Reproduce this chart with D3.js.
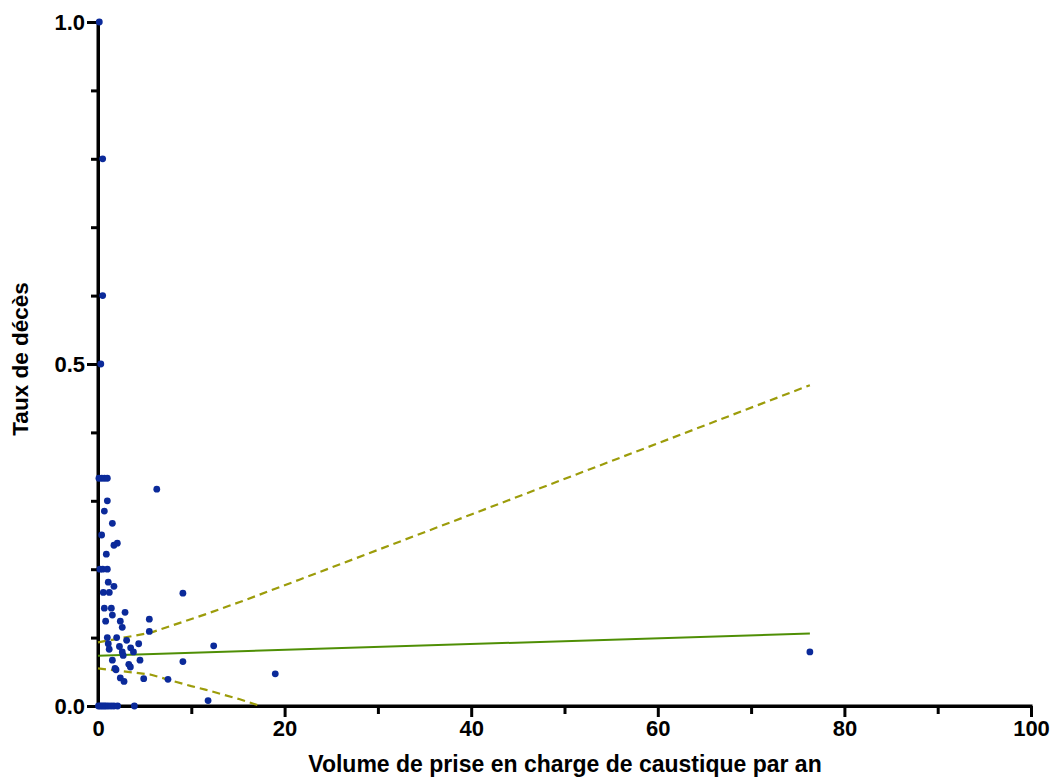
<!DOCTYPE html>
<html>
<head>
<meta charset="utf-8">
<script src="https://cdn.jsdelivr.net/npm/d3@7"></script>
<style>
  html, body { margin: 0; padding: 0; background: #fff; }
  svg text { font-family: "Liberation Sans", Arial, sans-serif; font-weight: bold; fill: #000; }
</style>
</head>
<body>
<svg id="chart" width="1053" height="781"></svg>
<script>
// ---- data ----
const volume = [
  0.14, 0.5, 0.5, 0.3,
  0.1, 0.4, 0.7, 1.0, 6.3,
  1.0, 0.68, 1.54, 0.39, 2.07, 1.71, 0.89,
  0.2, 0.5, 1.0, 1.1, 1.71, 0.57, 1.21, 9.1,
  0.68, 1.43, 2.9, 1.54, 0.82, 2.39, 5.5, 2.6, 5.5,
  1.0, 2.0, 3.07, 4.36, 1.1, 1.2, 2.3, 3.5, 2.6, 3.8, 2.7,
  1.54, 4.5, 9.1, 3.3, 3.47, 1.82, 1.93,
  4.9, 2.39, 2.79, 7.5, 12.4, 11.8, 19.0, 76.3,
  0.05, 0.25, 0.45, 0.65, 0.85, 1.1, 1.4, 1.7, 2.1, 3.9
];
const deathRate = [
  1.0, 0.8, 0.6, 0.5,
  0.333, 0.333, 0.333, 0.333, 0.317,
  0.30, 0.285, 0.267, 0.25, 0.238, 0.235, 0.222,
  0.20, 0.20, 0.20, 0.181, 0.175, 0.166, 0.166, 0.165,
  0.143, 0.143, 0.137, 0.133, 0.124, 0.124, 0.127, 0.115, 0.109,
  0.10, 0.10, 0.096, 0.091, 0.091, 0.083, 0.087, 0.085, 0.079, 0.079, 0.074,
  0.067, 0.067, 0.065, 0.061, 0.057, 0.055, 0.053,
  0.040, 0.041, 0.036, 0.039, 0.088, 0.008, 0.047, 0.079,
  0, 0, 0, 0, 0, 0, 0, 0, 0, 0
];
// linear fit and its 95% band
const fitX = [0, 76.3];
const fitY = [0.0735, 0.106];
const upperX = [0, 5.6, 11.5, 15.2, 21.65, 40, 60, 76.3];
const upperY = [0.093, 0.107, 0.134, 0.152, 0.185, 0.280, 0.384, 0.469];
const lowerX = [0, 5.6, 10, 11.5, 15.2, 17.4];
const lowerY = [0.055, 0.046, 0.029, 0.024, 0.0098, 0];
const xMajorTicks = [0, 20, 40, 60, 80, 100];
const xMinorTicks = [10, 30, 50, 70, 90];
const yMajorTicks = [0, 0.5, 1.0];
const yMinorTicks = [0.1, 0.2, 0.3, 0.4, 0.6, 0.7, 0.8, 0.9];
const xTitle = "Volume de prise en charge de caustique par an";
const yTitle = "Taux de décès";

// ---- drawing ----
const svg = d3.select("#chart");
const x = d3.scaleLinear().domain([0, 100]).range([98, 1031]);
const y = d3.scaleLinear().domain([0, 1]).range([706, 22]);

function styleAxis(g) {
  g.selectAll("path.domain").attr("stroke", "#000").attr("stroke-width", 3);
  g.selectAll(".tick line").attr("stroke", "#000").attr("stroke-width", 3);
  g.selectAll(".tick text").style("font-size", "22px").attr("fill", "#000");
}

// minor ticks
svg.append("g").attr("transform", `translate(0,${y(0)})`)
  .call(d3.axisBottom(x).tickValues(xMinorTicks).tickSize(8).tickSizeOuter(0).tickFormat(""))
  .call(styleAxis);
svg.append("g").attr("transform", `translate(${x(0)},0)`)
  .call(d3.axisLeft(y).tickValues(yMinorTicks).tickSize(7).tickSizeOuter(0).tickFormat(""))
  .call(styleAxis);
// major ticks
const gx = svg.append("g").attr("transform", `translate(0,${y(0)})`)
  .call(d3.axisBottom(x).tickValues(xMajorTicks).tickSize(11).tickSizeOuter(0).tickPadding(3).tickFormat(d3.format("d")))
  .call(styleAxis);
const gy = svg.append("g").attr("transform", `translate(${x(0)},0)`)
  .call(d3.axisLeft(y).tickValues(yMajorTicks).tickSize(11).tickSizeOuter(0).tickPadding(2).tickFormat(d3.format(".1f")))
  .call(styleAxis);
gx.selectAll("path.domain").attr("d", `M${x(0) - 1.5},0H${x(100) + 1.5}`);
gy.selectAll("path.domain").attr("d", `M0,${y(1) - 2}V${y(0) + 1.5}`);
gx.selectAll(".tick").filter(d => d === 0).select("line").remove();

// axis titles
svg.append("text").attr("x", 565).attr("y", 772).attr("text-anchor", "middle")
  .style("font-size", "23px").text(xTitle);
svg.append("text").attr("transform", "translate(28,359) rotate(-90)").attr("text-anchor", "middle")
  .style("font-size", "22.5px").text(yTitle);

// regression band and line
const line = d3.line().x(d => x(d[0])).y(d => y(d[1]));
svg.append("path").datum(d3.zip(upperX, upperY)).attr("d", line)
  .attr("fill", "none").attr("stroke", "#9c9c0a").attr("stroke-width", 2.2).attr("stroke-dasharray", "8,5");
svg.append("path").datum(d3.zip(lowerX, lowerY)).attr("d", line)
  .attr("fill", "none").attr("stroke", "#9c9c0a").attr("stroke-width", 2.2).attr("stroke-dasharray", "8,5");
svg.append("path").datum(d3.zip(fitX, fitY)).attr("d", line)
  .attr("fill", "none").attr("stroke", "#4f8f05").attr("stroke-width", 2);

// points
svg.append("g").selectAll("circle").data(d3.zip(volume, deathRate)).join("circle")
  .attr("cx", d => x(d[0])).attr("cy", d => y(d[1])).attr("r", 3.4)
  .attr("fill", "#0b2a9a");
</script>
</body>
</html>
